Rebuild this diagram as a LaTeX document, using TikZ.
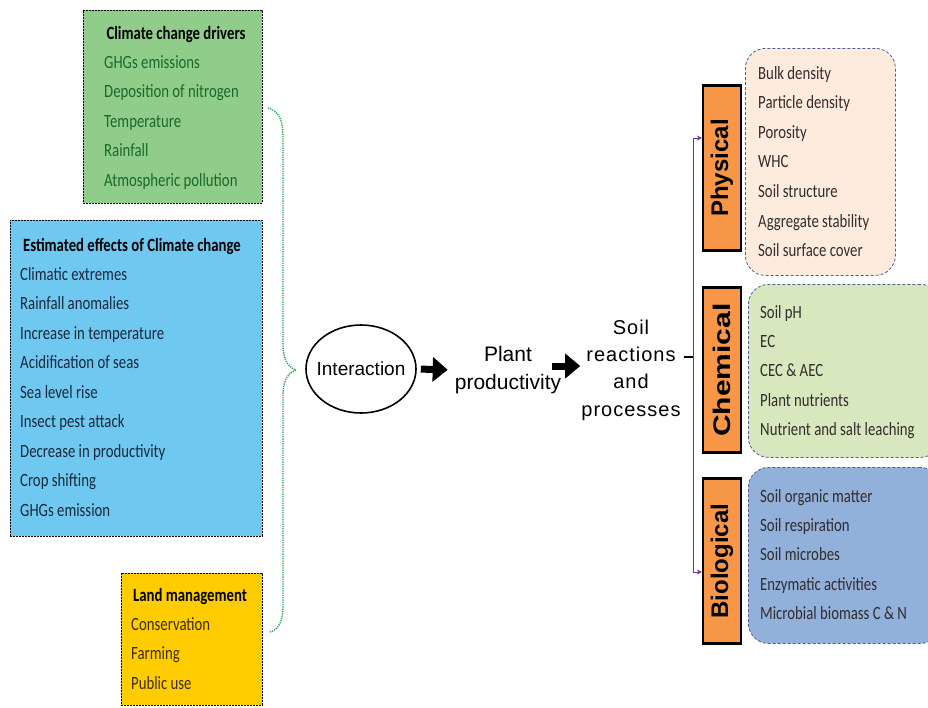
\documentclass[tikz,border=0pt]{standalone}
\usepackage{graphicx}
\usepackage{fontspec}
\setmainfont{Carlito}
\setsansfont{Liberation Sans}
\newfontfamily\condfont[FakeStretch=0.79]{Carlito}
\usetikzlibrary{arrows.meta, positioning, shapes.geometric}

\definecolor{drvgreen}{RGB}{144,204,138}
\definecolor{drvtext}{RGB}{25,105,45}
\definecolor{effblue}{RGB}{110,200,240}
\definecolor{efftext}{RGB}{25,40,60}
\definecolor{landyellow}{RGB}{255,204,0}
\definecolor{landtext}{RGB}{60,45,10}
\definecolor{physfill}{RGB}{253,235,222}
\definecolor{chemfill}{RGB}{215,231,190}
\definecolor{biofill}{RGB}{145,176,218}
\definecolor{boxedge}{RGB}{80,95,140}
\definecolor{softtext}{RGB}{50,45,45}
\definecolor{tagorange}{RGB}{247,150,70}
\definecolor{linkpurple}{RGB}{112,48,160}
\definecolor{bracegreen}{RGB}{40,160,80}

\begin{document}
\begin{tikzpicture}[x=1pt, y=-1pt,
    listbox/.style={draw=black, dash pattern=on 2pt off 1pt, line width=0.8pt, anchor=north west, inner sep=0pt},
    softbox/.style={draw=boxedge, densely dashed, line width=0.8pt, rounded corners=20pt, anchor=north west, inner sep=0pt},
    tagbox/.style={draw=black, line width=2.2pt, fill=tagorange, rotate=90, minimum width=165pt, minimum height=38pt, inner sep=0pt, font=\sffamily\bfseries\fontsize{24}{24}\selectfont},
    boxtitle/.style={anchor=base, inner sep=0pt, font=\condfont\bfseries\fontsize{18.7}{20}\selectfont},
    listitem/.style={anchor=base west, inner sep=0pt, font=\condfont\fontsize{18.7}{20}\selectfont},
    flowtext/.style={font=\sffamily\fontsize{20}{27}\selectfont, align=center, inner sep=0pt},
    bigarrow/.style={-{Triangle[length=15pt,width=24pt]}, line width=7pt},
    purp/.style={draw=linkpurple, line width=1pt, -{Stealth[length=5pt,width=5pt]}},
    brace/.style={draw=bracegreen, densely dotted, line width=1.3pt}
]
\useasboundingbox (0,0) rectangle (928,707);

% left side: the three lists
\node[listbox, fill=drvgreen, minimum width=179pt, minimum height=193pt] (drivers) at (83,10) {};
\node[listbox, fill=effblue, minimum width=252pt, minimum height=316pt] (effects) at (10,220) {};
\node[listbox, fill=landyellow, minimum width=141pt, minimum height=132pt] (land) at (121,573) {};

\node[boxtitle] (drvtitle) at (176,39) {Climate change drivers};
\foreach \t [count=\i from 0] in {GHGs emissions, Deposition of nitrogen, Temperature, Rainfall, Atmospheric pollution}
    \node[listitem, text=drvtext] (drv\i) at (104, 68+29.5*\i) {\t};

\node[boxtitle] (efftitle) at (132,251) {Estimated effects of Climate change};
\foreach \t [count=\i from 0] in {Climatic extremes, Rainfall anomalies, Increase in temperature, Acidification of seas, Sea level rise, Insect pest attack, Decrease in productivity, Crop shifting, GHGs emission}
    \node[listitem, text=efftext] (eff\i) at (20, 280+29.5*\i) {\t};

\node[boxtitle] (landtitle) at (190,601) {Land management};
\foreach \t [count=\i from 0] in {Conservation, Farming, Public use}
    \node[listitem, text=landtext] (land\i) at (131, 630+29.5*\i) {\t};

% brace gathering the lists
\draw[brace] (268,108) .. controls (280,112) and (283,120) .. (283,140) -- (283,345)
    .. controls (283,362) and (290,368) .. (296,370) .. controls (290,372) and (283,378) .. (283,395)
    -- (283,605) .. controls (283,622) and (278,630) .. (270,632);

% middle flow
\node[draw, ellipse, line width=1.6pt, minimum width=110pt, minimum height=88pt, inner xsep=-7pt, inner ysep=0pt,
      font=\sffamily\fontsize{19}{20}\selectfont] (inter) at (361,369) {Interaction};
\node[flowtext, font=\sffamily\fontsize{21}{28}\selectfont] (plant) at (508,370) {Plant\\productivity};
\node[flowtext, font=\sffamily\fontsize{20}{27.3}\selectfont\addfontfeature{LetterSpace=5}] (soil) at (631,370) {Soil\\reactions\\and\\processes};
\draw[bigarrow, shorten <=4pt, shorten >=7pt] (inter.east) -- (plant.west);
\draw[bigarrow] ([xshift=-9pt,yshift=4pt]plant.east) -- ([xshift=-1pt,yshift=4pt]soil.west);

% right side: property groups
\node[softbox, fill=physfill, minimum width=150pt, minimum height=227pt] (physbox) at (745,48) {};
\node[softbox, fill=chemfill, minimum width=192pt, minimum height=173pt] (chembox) at (748,284) {};
\node[softbox, fill=biofill, minimum width=192pt, minimum height=176pt] (biobox) at (748,467) {};

\node[tagbox] (phys) at (722,168) {Physical};
\node[tagbox] (chem) at (722,370) {\scalebox{1.25}[1]{Chemical}};
\node[tagbox] (bio) at (722,561) {Biological};

\foreach \t [count=\i from 0] in {Bulk density, Particle density, Porosity, WHC, Soil structure, Aggregate stability, Soil surface cover}
    \node[listitem, text=softtext] (phy\i) at (758, 79+29.6*\i) {\t};
\foreach \t [count=\i from 0] in {Soil pH, EC, CEC \& AEC, Plant nutrients, Nutrient and salt leaching}
    \node[listitem, text=softtext] (che\i) at (760, 318+29.4*\i) {\t};
\foreach \t [count=\i from 0] in {Soil organic matter, Soil respiration, Soil microbes, Enzymatic activities, Microbial biomass C \& N}
    \node[listitem, text=softtext] (bio\i) at (760, 502+29.4*\i) {\t};

% links to the groups
\coordinate (hub) at (693,357);
\draw[line width=2pt] ([xshift=-9pt]hub) -- (hub);
\draw[purp] (hub) |- ([yshift=30pt]phys.north);
\draw[purp] (hub) |- ([yshift=-11pt]bio.north);
\end{tikzpicture}
\end{document}
